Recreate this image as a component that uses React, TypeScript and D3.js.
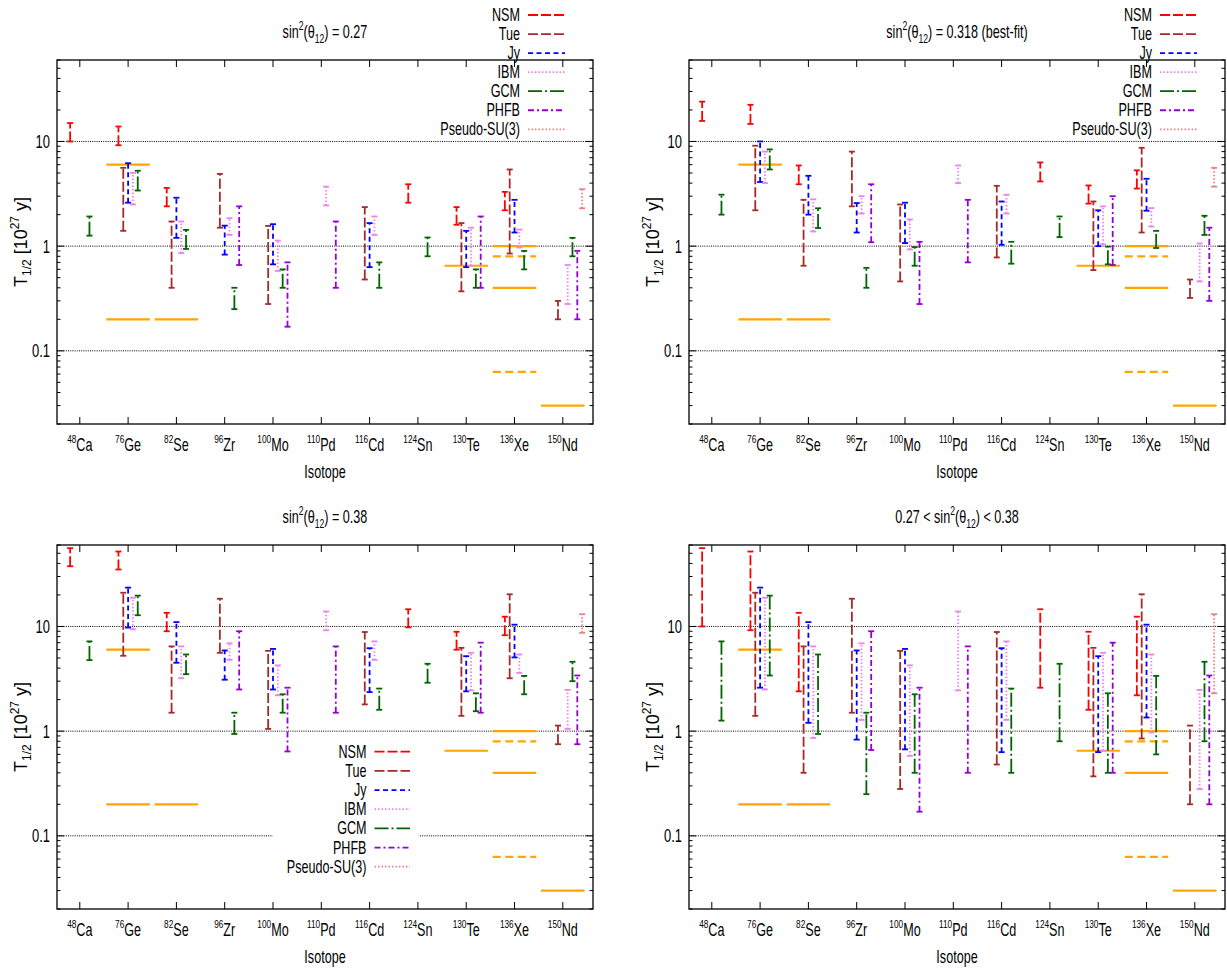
import React from "react";
import * as d3 from "d3";

const masses = ["48", "76", "82", "96", "100", "110", "116", "124", "130", "136", "150"];
const elements = ["Ca", "Ge", "Se", "Zr", "Mo", "Pd", "Cd", "Sn", "Te", "Xe", "Nd"];

type R = [number, number] | null;
const _ = null;

const modelNames = ["NSM", "Tue", "Jy", "IBM", "GCM", "PHFB", "Pseudo-SU(3)"];
const modelColors = ["#ff0000", "#a52a2a", "#0000ff", "#ee82ee", "#006400", "#9400d3", "#f08080"];
const modelDash = ["10,3", "10,3", "5,3.5", "1.5,2", "14,3,2,3", "6,3,2,3", "1.5,2"];
const modelOffset = [-0.2, -0.1, 0, 0.1, 0.2, 0.3, 0.4];

// sin^2 = 0.27
const NSM_1: R[] = [[10, 15], [9.2, 13.9], [2.4, 3.6], _, _, _, _, [2.6, 3.9], [1.6, 2.36], [2.2, 3.3], _];
const TUE_1: R[] = [_, [1.4, 5.6], [0.4, 1.72], [1.5, 4.9], [0.28, 1.56], _, [0.48, 2.36], _, [0.37, 1.66], [0.85, 5.4], [0.2, 0.3]];
const JY_1: R[] = [_, [2.6, 6.2], [1.2, 2.9], [0.83, 1.57], [0.67, 1.62], _, [0.63, 1.66], _, [0.63, 1.4], [1.35, 2.77], _];
const IBM_1: R[] = [_, [2.5, 5.0], [0.86, 1.72], [1.28, 1.85], [0.58, 1.13], [2.45, 3.7], [1.28, 1.92], _, [0.65, 1.5], [0.97, 1.44], [0.28, 0.66]];
const GCM_1: R[] = [[1.26, 1.92], [3.4, 5.25], [0.94, 1.43], [0.25, 0.4], [0.4, 0.6], _, [0.4, 0.7], [0.8, 1.21], [0.4, 0.6], [0.6, 0.9], [0.8, 1.2]];
const PHFB_1: R[] = [_, _, _, [0.66, 2.4], [0.17, 0.7], [0.4, 1.72], _, _, [0.4, 1.92], _, [0.2, 0.9]];
const PSU_1: R[] = [_, _, _, _, _, _, _, _, _, _, [2.3, 3.5]];

// sin^2 = 0.318
const NSM_2: R[] = [[15.7, 24], [14.7, 22.4], [3.9, 5.9], _, _, _, _, [4.15, 6.3], [2.55, 3.8], [3.55, 5.3], _];
const TUE_2: R[] = [_, [2.2, 9.1], [0.65, 2.77], [2.4, 8.0], [0.46, 2.5], _, [0.78, 3.77], _, [0.59, 2.67], [1.35, 8.7], [0.32, 0.48]];
const JY_2: R[] = [_, [4.1, 10], [2.0, 4.7], [1.35, 2.58], [1.07, 2.6], _, [1.03, 2.67], _, [1.0, 2.2], [2.18, 4.4], _];
const IBM_2: R[] = [_, [4.0, 8.0], [1.38, 2.8], [2.05, 3.0], [0.93, 1.8], [4.0, 5.9], [2.05, 3.1], _, [1.04, 2.4], [1.54, 2.31], [0.46, 1.06]];
const GCM_2: R[] = [[2.0, 3.1], [5.4, 8.4], [1.49, 2.3], [0.4, 0.62], [0.65, 0.98], _, [0.68, 1.1], [1.22, 1.92], [0.67, 0.99], [0.96, 1.4], [1.28, 1.95]];
const PHFB_2: R[] = [_, _, _, [1.09, 3.9], [0.28, 1.1], [0.7, 2.77], _, _, [0.66, 3.0], _, [0.3, 1.5]];
const PSU_2: R[] = [_, _, _, _, _, _, _, _, _, _, [3.7, 5.6]];

// sin^2 = 0.38
const NSM_3: R[] = [[37.6, 56], [35, 52], [9.0, 13.5], _, _, _, _, [9.8, 14.6], [6.0, 8.9], [8.25, 12.4], _];
const TUE_3: R[] = [_, [5.25, 21], [1.5, 6.45], [5.6, 18.4], [1.05, 5.85], _, [1.8, 8.85], _, [1.4, 6.25], [3.2, 20.3], [0.75, 1.13]];
const JY_3: R[] = [_, [9.75, 23.5], [4.5, 11], [3.1, 5.9], [2.5, 6.1], _, [2.36, 6.2], _, [2.4, 5.2], [5.06, 10.4], _];
const IBM_3: R[] = [_, [9.4, 18.8], [3.2, 6.45], [4.8, 6.9], [2.2, 4.25], [9.2, 13.9], [4.8, 7.2], _, [2.45, 5.6], [3.6, 5.4], [1.05, 2.48]];
const GCM_3: R[] = [[4.77, 7.2], [12.8, 19.7], [3.5, 5.4], [0.94, 1.5], [1.5, 2.25], _, [1.6, 2.55], [2.9, 4.4], [1.55, 2.3], [2.25, 3.37], [3.0, 4.6]];
const PHFB_3: R[] = [_, _, _, [2.5, 9.0], [0.64, 2.6], [1.5, 6.45], _, _, [1.5, 7.0], _, [0.75, 3.4]];
const PSU_3: R[] = [_, _, _, _, _, _, _, _, _, _, [8.7, 13.1]];

// 0.27 < sin^2 < 0.38
const NSM_4: R[] = [[10, 56], [9.2, 52], [2.4, 13.5], _, _, _, _, [2.6, 14.6], [1.6, 8.9], [2.2, 12.4], _];
const TUE_4: R[] = [_, [1.4, 21], [0.4, 6.45], [1.5, 18.4], [0.28, 5.85], _, [0.48, 8.85], _, [0.37, 6.25], [0.85, 20.3], [0.2, 1.13]];
const JY_4: R[] = [_, [2.6, 23.5], [1.2, 11], [0.83, 5.9], [0.67, 6.1], _, [0.63, 6.2], _, [0.63, 5.2], [1.35, 10.4], _];
const IBM_4: R[] = [_, [2.5, 18.8], [0.86, 6.45], [1.28, 6.9], [0.58, 4.25], [2.45, 13.9], [1.28, 7.2], _, [0.65, 5.6], [0.97, 5.4], [0.28, 2.48]];
const GCM_4: R[] = [[1.26, 7.2], [3.4, 19.7], [0.94, 5.4], [0.25, 1.5], [0.4, 2.25], _, [0.4, 2.55], [0.8, 4.4], [0.4, 2.3], [0.6, 3.37], [0.8, 4.6]];
const PHFB_4: R[] = [_, _, _, [0.66, 9.0], [0.17, 2.6], [0.4, 6.45], _, _, [0.4, 7.0], _, [0.2, 3.4]];
const PSU_4: R[] = [_, _, _, _, _, _, _, _, _, _, [2.3, 13.1]];

// experimental limits (orange)
const limitIdx = [1, 1, 2, 8, 9, 9, 9, 9, 10];
const limitVal = [6, 0.2, 0.2, 0.65, 1.0, 0.8, 0.4, 0.063, 0.03];
const limitDashed = [false, false, false, false, false, true, false, true, false];

const yMajor = [0.1, 1, 10];
const yLabels = ["0.1", "1", "10"];

const FF = "'Liberation Sans', Arial, Helvetica, sans-serif";
const SX = 0.72;

function NT({ x, y, anchor = "middle", fs = 17.5, children }: any) {
  return (
    <text transform={`translate(${x},${y}) scale(${SX},1)`} textAnchor={anchor} fontSize={fs} fontFamily={FF} fill="#000">
      {children}
    </text>
  );
}

type Leg = { tx: number; s0: number; s1: number; cy0: number; dy: number };

function Panel({ ox, oy, series, title, legend, legendBox }: { ox: number; oy: number; series: R[][]; title: any; legend?: Leg; legendBox?: number[] }) {
  const L = 57 + ox, Rr = 593 + ox, T = 60 + oy, B = 424 + oy;
  const x = d3.scaleLinear().domain([0.528, 11.625]).range([L, Rr]);
  const y = d3.scaleLog().domain([0.02, 60]).range([B, T]);
  const minors: number[] = [];
  [0.01, 0.1, 1, 10].forEach((d) => {
    for (let k = 2; k <= 9; k++) {
      const v = k * d;
      if (v >= 0.02 && v <= 60) minors.push(v);
    }
  });
  const cx = (L + Rr) / 2;
  return (
    <g>
      {yMajor.map((v, i) => (
        <line key={"g" + i} x1={L} x2={Rr} y1={y(v)} y2={y(v)} stroke="#000" strokeWidth={1} strokeDasharray="1,1.2" />
      ))}
      {legendBox && (
        <rect x={legendBox[0]} y={legendBox[1]} width={legendBox[2]} height={legendBox[3]} fill="#fff" />
      )}
      {limitIdx.map((ix, i) => (
        <line key={"l" + i} x1={x(ix + 1 - 0.45)} x2={x(ix + 1 + 0.45)} y1={y(limitVal[i])} y2={y(limitVal[i])}
          stroke="#ffa500" strokeWidth={2.2} strokeDasharray={limitDashed[i] ? "8,4.5" : undefined} />
      ))}
      {series.map((arr, m) =>
        arr.map((r, i) => {
          if (!r) return null;
          const xx = x(i + 1 + modelOffset[m]);
          const y0 = y(r[0]), y1 = y(r[1]);
          return (
            <g key={m + "-" + i} stroke={modelColors[m]} strokeWidth={1.8}>
              <line x1={xx} x2={xx} y1={y0} y2={y1} strokeDasharray={modelDash[m]} />
              <line x1={xx - 3} x2={xx + 3} y1={y0} y2={y0} />
              <line x1={xx - 3} x2={xx + 3} y1={y1} y2={y1} />
            </g>
          );
        })
      )}
      {/* frame */}
      <rect x={L} y={T} width={Rr - L} height={B - T} fill="none" stroke="#000" strokeWidth={1.3} />
      {elements.map((e, i) => (
        <g key={"xt" + i} stroke="#000" strokeWidth={1}>
          <line x1={x(i + 1)} x2={x(i + 1)} y1={B} y2={B - 7} />
          <line x1={x(i + 1)} x2={x(i + 1)} y1={T} y2={T + 7} />
        </g>
      ))}
      {yMajor.map((v, i) => (
        <g key={"ym" + i} stroke="#000" strokeWidth={1}>
          <line x1={L} x2={L + 7} y1={y(v)} y2={y(v)} />
          <line x1={Rr} x2={Rr - 7} y1={y(v)} y2={y(v)} />
        </g>
      ))}
      {minors.map((v, i) => (
        <g key={"yn" + i} stroke="#000" strokeWidth={1}>
          <line x1={L} x2={L + 3.5} y1={y(v)} y2={y(v)} />
          <line x1={Rr} x2={Rr - 3.5} y1={y(v)} y2={y(v)} />
        </g>
      ))}
      {yMajor.map((v, i) => (
        <NT key={"yl" + i} x={L - 7} y={y(v) + 6.5} anchor="end" fs={18}>{yLabels[i]}</NT>
      ))}
      {elements.map((e, i) => (
        <NT key={"xl" + i} x={x(i + 1)} y={451 + oy}>
          <tspan fontSize={11.5} dy={-8}>{masses[i]}</tspan>
          <tspan dy={8}>{e}</tspan>
        </NT>
      ))}
      <NT x={cx} y={478 + oy}>Isotope</NT>
      <text transform={`translate(${27 + ox},${242 + oy}) rotate(-90)`} textAnchor="middle" fontSize={18} fontFamily={FF}>
        T<tspan fontSize={12} dy={4}>1/2</tspan>
        <tspan dy={-4}> [10</tspan>
        <tspan fontSize={12} dy={-8}>27</tspan>
        <tspan dy={8}> y]</tspan>
      </text>
      <NT x={cx} y={38 + oy}>{title}</NT>
      {legend &&
        modelNames.map((n, m) => {
          const cy = legend.cy0 + m * legend.dy;
          return (
            <g key={"lg" + m}>
              <NT x={legend.tx} y={cy + 6} anchor="end">{n}</NT>
              <line x1={legend.s0} x2={legend.s1} y1={cy} y2={cy} stroke={modelColors[m]} strokeWidth={1.8} strokeDasharray={modelDash[m]} />
            </g>
          );
        })}
    </g>
  );
}

function sinT(rest: string, pre?: string) {
  return (
    <>
      {pre}sin<tspan fontSize={12} dy={-8}>2</tspan>
      <tspan dy={8}>(θ</tspan>
      <tspan fontSize={12} dy={5}>12</tspan>
      <tspan dy={-5}>{rest}</tspan>
    </>
  );
}

export default function App() {
  const s1 = [NSM_1, TUE_1, JY_1, IBM_1, GCM_1, PHFB_1, PSU_1];
  const s2 = [NSM_2, TUE_2, JY_2, IBM_2, GCM_2, PHFB_2, PSU_2];
  const s3 = [NSM_3, TUE_3, JY_3, IBM_3, GCM_3, PHFB_3, PSU_3];
  const s4 = [NSM_4, TUE_4, JY_4, IBM_4, GCM_4, PHFB_4, PSU_4];
  return (
    <svg width={1227} height={970} style={{ position: "absolute", left: 0, top: 0, background: "#fff" }}>
      <rect width={1227} height={970} fill="#fff" />
      <Panel ox={0} oy={0} series={s1} title={sinT(") = 0.27")}
        legend={{ tx: 520, s0: 528, s1: 565, cy0: 15, dy: 19.05 }} />
      <Panel ox={632} oy={0} series={s2} title={sinT(") = 0.318 (best-fit)")}
        legend={{ tx: 1152, s0: 1160, s1: 1197, cy0: 15, dy: 19.05 }} />
      <Panel ox={0} oy={485} series={s3} title={sinT(") = 0.38")}
        legend={{ tx: 366.5, s0: 374.5, s1: 410, cy0: 751.7, dy: 19.17 }} legendBox={[272.6, 741, 146.2, 137]} />
      <Panel ox={632} oy={485} series={s4} title={sinT(") < 0.38", "0.27 < ")} />
    </svg>
  );
}
